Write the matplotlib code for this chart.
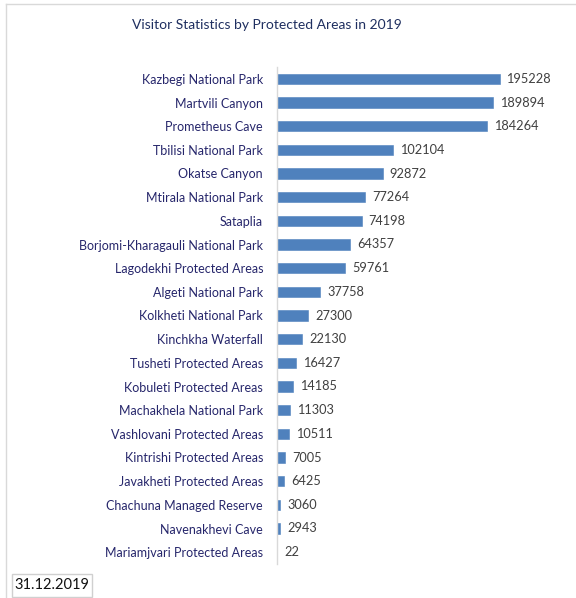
import matplotlib
matplotlib.use("Agg")
import matplotlib.pyplot as plt
from matplotlib.patches import Rectangle
from matplotlib.lines import Line2D

categories = [
    "Kazbegi National Park", "Martvili Canyon", "Prometheus Cave", "Tbilisi National Park",
    "Okatse Canyon", "Mtirala National Park", "Sataplia", "Borjomi-Kharagauli National Park",
    "Lagodekhi Protected Areas", "Algeti National Park", "Kolkheti National Park",
    "Kinchkha Waterfall", "Tusheti Protected Areas", "Kobuleti Protected Areas",
    "Machakhela National Park", "Vashlovani Protected Areas", "Kintrishi Protected Areas",
    "Javakheti Protected Areas", "Chachuna Managed Reserve", "Navenakhevi Cave",
    "Mariamjvari Protected Areas",
]
visitors = [195228, 189894, 184264, 102104, 92872, 77264, 74198, 64357, 59761, 37758,
            27300, 22130, 16427, 14185, 11303, 10511, 7005, 6425, 3060, 2943, 22]
title = "Visitor Statistics by Protected Areas in 2019"
date_label = "31.12.2019"

plt.rcParams['font.family'] = ['Lato', 'DejaVu Sans']

W, H = 576, 598
fig = plt.figure(figsize=(W / 100, H / 100), dpi=100)
ax = fig.add_axes([277 / W, 1 - 564 / H, (562 - 277) / W, (564 - 67) / H])

n = len(categories)
ypos = list(range(n))
ax.barh(ypos, visitors, height=0.43, color="#4F81BD", edgecolor="#4F81BD", linewidth=0.4)
ax.set_ylim(n - 0.5, -0.5)
ax.set_xlim(0, 250000)
ax.set_yticks(ypos)
ax.set_yticklabels(categories, fontsize=9, color="#26266B")
ax.tick_params(axis='y', length=0, pad=10)
ax.set_xticks([])
for s in ["top", "right", "bottom"]:
    ax.spines[s].set_visible(False)
ax.spines["left"].set_color("#D9D9D9")
ax.spines["left"].set_linewidth(1)

for y, v in zip(ypos, visitors):
    ax.annotate(f"{v}", (v, y), xytext=(5, 0), textcoords="offset points",
                va="center", ha="left", fontsize=9.2, color="#404040")

fig.text(267 / W, 1 - 25 / H, title, ha="center", va="center", fontsize=10, color="#1F2F60")

# chart frame (top and left edges visible)
fig.add_artist(Line2D([6 / W, 6 / W], [0, 1 - 4 / H], transform=fig.transFigure, color="#D9D9D9", lw=1))
fig.add_artist(Line2D([6 / W, 1], [1 - 4 / H, 1 - 4 / H], transform=fig.transFigure, color="#D9D9D9", lw=1))

# date box
fig.add_artist(Rectangle((12 / W, 1 - 597 / H), 80 / W, 23 / H, transform=fig.transFigure,
                         facecolor="white", edgecolor="#D0D0D0", lw=1))
fig.text(52 / W, 1 - 585 / H, date_label, ha="center", va="center", fontsize=10.5, color="#111111")

fig.savefig("out.png", dpi=100)
